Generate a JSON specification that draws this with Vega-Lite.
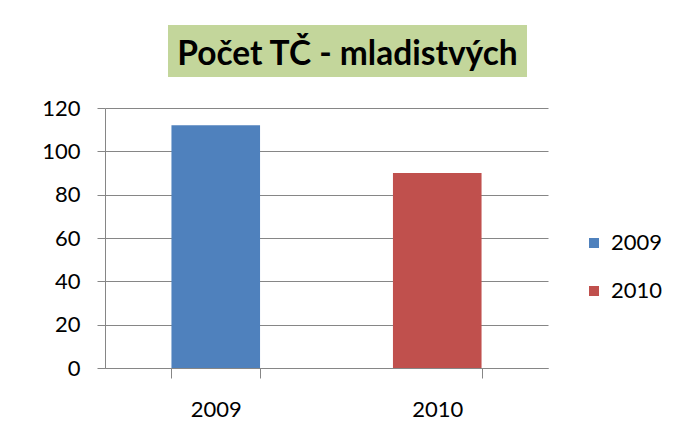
{
  "$schema": "https://vega.github.io/schema/vega-lite/v6.json",
  "padding": {"left": 41, "top": 25, "right": 0, "bottom": 0},
  "background": "white",
  "config": {
    "font": "Lato",
    "view": {"stroke": null},
    "concat": {"spacing": 0}
  },
  "spacing": 20,
  "center": false,
  "resolve": {"scale": {"color": "independent"}, "legend": {"color": "independent"}},
  "vconcat": [
    {
      "spacing": 0,
      "center": false,
      "hconcat": [
        {
          "width": 63,
          "height": 52,
          "data": {"values": [{"t": ""}]},
          "mark": {"type": "text"},
          "encoding": {"text": {"field": "t"}}
        },
        {
          "width": 359,
          "height": 52,
          "view": {"fill": "#c3d69b", "stroke": null},
          "data": {"values": [{"t": "Počet TČ - mladistvých"}]},
          "mark": {"type": "text", "font": "Lato", "fontSize": 33.5, "fontWeight": "bold", "color": "#000000", "align": "center", "baseline": "middle", "dy": 4},
          "encoding": {"text": {"field": "t"}}
        }
      ]
    },
    {
      "width": 443,
      "height": 260,
      "data": {"values": [
        {"rok": "2009", "pocet": 112},
        {"rok": "2010", "pocet": 90}
      ]},
      "mark": {"type": "bar"},
      "encoding": {
        "x": {
          "field": "rok", "type": "nominal",
          "scale": {"paddingInner": 0.6, "paddingOuter": 0.3},
          "axis": {
            "title": null, "labelAngle": 0, "tickBand": "extent",
            "tickSize": 10, "tickColor": "#868686", "domainColor": "#868686",
            "labelFontSize": 22, "labelColor": "#000000", "labelPadding": 21,
            "labelFont": "Lato"
          }
        },
        "y": {
          "field": "pocet", "type": "quantitative",
          "scale": {"domain": [0, 120], "nice": false},
          "axis": {
            "title": null, "values": [0, 20, 40, 60, 80, 100, 120],
            "tickSize": 8, "tickColor": "#868686", "domainColor": "#868686",
            "gridColor": "#868686", "gridOpacity": 1,
            "labelFontSize": 22, "labelColor": "#000000", "labelPadding": 17,
            "labelFont": "Lato"
          }
        },
        "color": {
          "field": "rok", "type": "nominal",
          "scale": {"domain": ["2009", "2010"], "range": ["#4f81bd", "#c0504d"]},
          "legend": {
            "title": null, "orient": "none", "legendX": 478, "legendY": 124,
            "symbolType": "square", "symbolSize": 100, "symbolStrokeWidth": 0,
            "labelFontSize": 22, "labelColor": "#000000", "labelOffset": 6,
            "rowPadding": 26, "labelFont": "Lato"
          }
        }
      }
    }
  ]
}
